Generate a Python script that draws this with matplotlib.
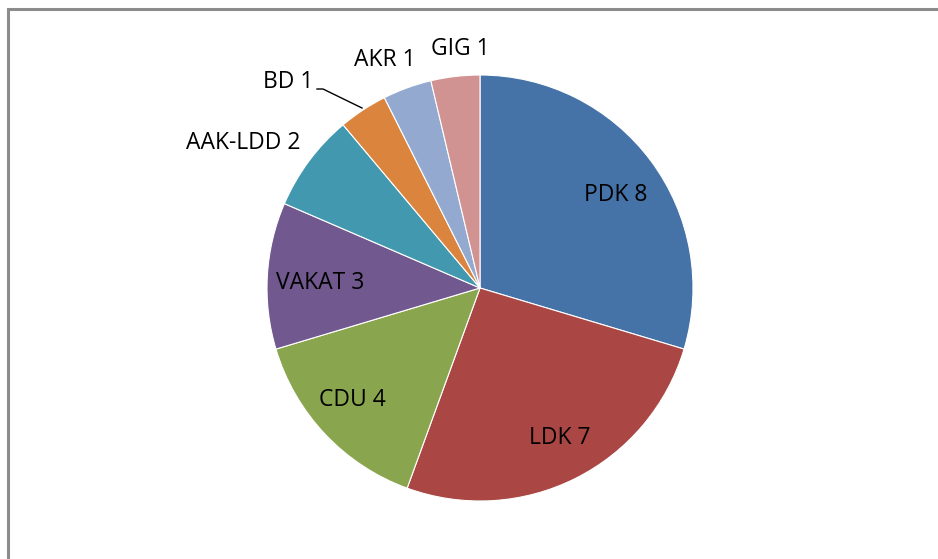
import matplotlib
matplotlib.use("Agg")
from matplotlib import pyplot as plt
from matplotlib.patches import Rectangle

LABELS = ["PDK", "LDK", "CDU", "VAKAT", "AAK-LDD", "BD", "AKR", "GIG"]
VALUES = [8, 7, 4, 3, 2, 1, 1, 1]
COLORS = ["#4572A7", "#AA4643", "#89A54E", "#71588F",
          "#4198AF", "#DB843D", "#93A9CF", "#D19392"]
# label positions relative to pie centre (radius = 1)
LABEL_POS = [(0.635, 0.437), (0.376, -0.704), (-0.601, -0.526), (-0.751, 0.023),
             (-1.113, 0.681), (-0.901, 0.967), (-0.446, 1.070), (-0.094, 1.122)]

W, H = 938, 559
fig = plt.figure(figsize=(W / 100, H / 100), dpi=100)

# outer frame (only top and left visible)
fig.patches.append(Rectangle((8 / W, -0.1), 1.2, 1 - 9 / H + 0.1,
                             transform=fig.transFigure, fill=False,
                             edgecolor="#8c8c8c", linewidth=2.2))

cx, cy, r = 480, 288, 213
ax = fig.add_axes([(cx - r) / W, (H - cy - r) / H, 2 * r / W, 2 * r / H])
ax.pie(VALUES, colors=COLORS, startangle=90, counterclock=False, radius=1,
       wedgeprops={"edgecolor": "white", "linewidth": 0.8})
ax.set_xlim(-1, 1)
ax.set_ylim(-1, 1)
ax.set_aspect("equal")

for lab, val, (x, y) in zip(LABELS, VALUES, LABEL_POS):
    ax.text(x, y, f"{lab} {val}", ha="center", va="center", fontsize=16.5,
            family="Open Sans", color="black", clip_on=False)

# leader line for BD
ax.plot([(317 - cx) / r, (323 - cx) / r, (362 - cx) / r],
        [(cy - 89) / r, (cy - 89) / r, (cy - 108) / r],
        color="black", linewidth=1, clip_on=False)

fig.savefig("out.png", dpi=100)
